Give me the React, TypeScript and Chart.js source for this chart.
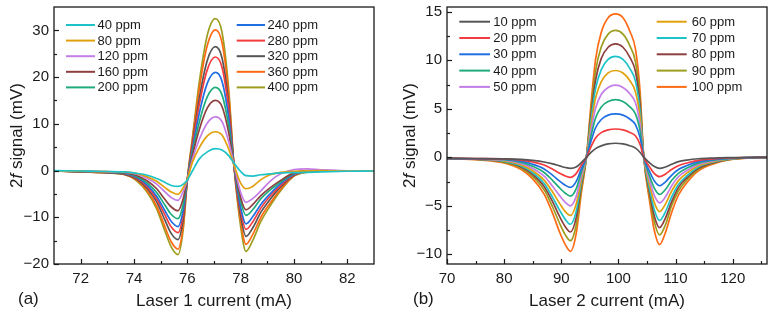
import React, { useEffect, useRef } from "react";
import { Chart, registerables } from "chart.js";

Chart.register(...registerables);

const FONT = "Arial, 'Liberation Sans', Helvetica, sans-serif";
const INK = "#1a1a1a";

// Line colours
const CYAN = "#1dc3c8";
const GOLD = "#e2a10c";
const VIOLET = "#c47de6";
const BROWN = "#8e3f3f";
const GREEN = "#1fac7a";
const BLUE = "#1f6fe2";
const RED = "#f43c3f";
const GRAY = "#555555";
const ORANGE = "#ff6a14";
const OLIVE = "#9d9d1f";

// ---------- Panel (a): laser 1 current sweep ----------
const laser1Current = [71, 72, 73, 73.6, 74.1, 74.5, 74.85, 75.15, 75.4, 75.65, 75.85, 76.0, 76.2, 76.45, 76.75, 77.05, 77.3, 77.55, 77.75, 78.0, 78.2, 78.45, 78.75, 79.1, 79.5, 80.0, 80.5, 81, 82, 83];

const a40 = [0.0, -0.1, -0.2, -0.3, -0.6, -1.0, -1.7, -2.5, -3.2, -3.4, -2.9, -2.0, 0.0, 2.5, 4.0, 4.7, 4.4, 3.2, 1.6, -0.2, -1.1, -1.2, -0.9, -0.7, -0.5, -0.45, -0.4, -0.3, -0.15, -0.1];
const a80 = [-0.05, -0.15, -0.25, -0.3, -0.65, -1.35, -2.3, -3.6, -4.6, -5.1, -3.6, -1.8, 1.9, 4.9, 7.4, 8.3, 7.6, 4.6, 1.2, -2.7, -3.9, -3.4, -2.0, -0.9, -0.4, -0.15, -0.05, 0.0, -0.1, -0.1];
const a120 = [-0.1, -0.15, -0.25, -0.35, -0.8, -1.7, -2.9, -4.5, -5.8, -6.4, -4.4, -1.9, 2.6, 6.7, 10.2, 11.5, 10.5, 6.2, 1.2, -4.7, -6.8, -6.0, -4.4, -2.3, -0.7, 0.2, 0.35, 0.15, -0.05, -0.1];
const a160 = [-0.1, -0.2, -0.3, -0.45, -1.05, -2.25, -3.9, -6.1, -7.8, -8.6, -5.9, -1.9, 3.4, 8.8, 13.4, 15.0, 13.7, 8.1, 1.1, -5.8, -8.4, -7.3, -5.4, -3.7, -2.1, -0.5, 0.0, 0.05, -0.1, -0.1];
const a200 = [-0.1, -0.2, -0.35, -0.5, -1.25, -2.7, -4.7, -7.3, -9.4, -10.3, -7.1, -2.0, 4.1, 10.4, 15.8, 17.8, 16.2, 9.6, 1.1, -6.6, -9.6, -8.4, -6.1, -4.2, -2.4, -0.6, -0.1, 0.0, -0.1, -0.1];
const a240 = [-0.1, -0.2, -0.4, -0.55, -1.45, -3.1, -5.5, -8.5, -10.9, -12.0, -8.3, -2.0, 4.8, 12.3, 18.7, 21.0, 19.1, 11.3, 1.1, -7.9, -11.4, -9.9, -7.3, -5.0, -2.8, -0.8, -0.15, -0.05, -0.1, -0.1];
const a280 = [-0.1, -0.25, -0.4, -0.6, -1.6, -3.5, -6.1, -9.4, -12.1, -13.3, -9.2, -2.0, 5.6, 14.2, 21.6, 24.3, 22.1, 13.1, 1.0, -8.7, -12.6, -11.0, -8.1, -5.5, -3.2, -0.9, -0.2, -0.1, -0.1, -0.1];
const a320 = [-0.1, -0.25, -0.45, -0.7, -1.8, -3.9, -6.7, -10.5, -13.5, -14.8, -10.2, -2.0, 6.1, 15.5, 23.6, 26.5, 24.1, 14.3, 1.0, -9.7, -14.1, -12.3, -9.0, -6.2, -3.5, -1.0, -0.25, -0.1, -0.1, -0.1];
const a360 = [-0.1, -0.3, -0.5, -0.75, -2.0, -4.4, -7.6, -11.9, -15.3, -16.8, -11.6, -2.0, 6.9, 17.6, 26.8, 30.1, 27.4, 16.3, 1.0, -10.9, -15.8, -13.7, -10.1, -7.0, -4.0, -1.1, -0.3, -0.15, -0.1, -0.1];
const a400 = [-0.1, -0.3, -0.5, -0.8, -2.2, -4.7, -8.2, -12.8, -16.4, -18.0, -12.4, -2.0, 7.5, 19.0, 29.0, 32.5, 29.6, 17.5, 1.0, -12.0, -17.3, -15.0, -11.0, -7.6, -4.3, -1.2, -0.35, -0.15, -0.1, -0.1];

const laser1Labels = ["40 ppm", "80 ppm", "120 ppm", "160 ppm", "200 ppm", "240 ppm", "280 ppm", "320 ppm", "360 ppm", "400 ppm"];
const laser1Colors = [CYAN, GOLD, VIOLET, BROWN, GREEN, BLUE, RED, GRAY, ORANGE, OLIVE];
const laser1Values = [a40, a80, a120, a160, a200, a240, a280, a320, a360, a400];

const laser1XTicks = [72, 74, 76, 78, 80, 82];
const laser1XMinor = [73, 75, 77, 79, 81];
const laser1YTicks = [-20, -10, 0, 10, 20, 30];
const laser1YMinor = [-15, -5, 5, 15, 25];

// ---------- Panel (b): laser 2 current sweep ----------
const laser2Current = [70, 75, 80, 83, 85, 87, 88.5, 89.7, 90.7, 91.6, 92.6, 93.5, 94.4, 95.2, 96.0, 97.0, 98.2, 99.5, 100.8, 102.0, 103.0, 103.8, 104.4, 105.5, 106.3, 107.2, 108.2, 109.3, 110.5, 112, 114, 116.5, 119, 122, 126];

const b10 = [-0.1, -0.12, -0.15, -0.22, -0.32, -0.48, -0.68, -0.88, -1.05, -1.14, -1.0, -0.55, 0.0, 0.5, 0.9, 1.18, 1.38, 1.45, 1.38, 1.2, 0.95, 0.5, 0.05, -0.6, -0.95, -1.14, -1.0, -0.72, -0.45, -0.28, -0.15, -0.08, -0.04, -0.02, 0.0];
const b20 = [-0.11, -0.13, -0.15, -0.28, -0.48, -0.8, -1.24, -1.63, -1.92, -2.07, -1.68, -0.8, 0.0, 1.08, 2.0, 2.55, 2.83, 2.92, 2.83, 2.57, 2.2, 1.32, 0.05, -1.04, -1.68, -2.0, -1.74, -1.26, -0.86, -0.58, -0.31, -0.16, -0.07, -0.02, 0.0];
const b30 = [-0.12, -0.15, -0.19, -0.4, -0.71, -1.2, -1.86, -2.45, -2.88, -3.1, -2.5, -1.18, 0.0, 1.65, 3.05, 3.9, 4.35, 4.47, 4.35, 3.95, 3.35, 2.0, 0.08, -1.52, -2.45, -2.93, -2.55, -1.85, -1.26, -0.85, -0.45, -0.23, -0.1, -0.03, 0.0];
const b40 = [-0.12, -0.16, -0.24, -0.52, -0.92, -1.56, -2.4, -3.15, -3.7, -4.0, -3.25, -1.5, 0.0, 2.2, 4.05, 5.2, 5.75, 5.95, 5.75, 5.2, 4.45, 2.7, 0.1, -2.0, -3.2, -3.83, -3.35, -2.4, -1.65, -1.1, -0.6, -0.3, -0.13, -0.04, 0.0];
const b50 = [-0.13, -0.17, -0.3, -0.65, -1.15, -1.95, -3.0, -3.95, -4.65, -5.0, -4.05, -1.9, 0.0, 2.75, 5.05, 6.5, 7.2, 7.44, 7.2, 6.55, 5.6, 3.35, 0.12, -2.45, -3.95, -4.7, -4.1, -2.95, -2.0, -1.35, -0.73, -0.37, -0.15, -0.05, 0.0];
const b60 = [-0.13, -0.18, -0.36, -0.78, -1.38, -2.35, -3.6, -4.75, -5.6, -6.0, -4.85, -2.3, 0.0, 3.3, 6.1, 7.8, 8.7, 8.95, 8.7, 7.9, 6.7, 4.05, 0.15, -2.9, -4.7, -5.6, -4.85, -3.5, -2.4, -1.6, -0.87, -0.44, -0.18, -0.06, 0.0];
const b70 = [-0.14, -0.19, -0.41, -0.9, -1.59, -2.7, -4.15, -5.45, -6.4, -6.9, -5.6, -2.6, 0.0, 3.85, 7.1, 9.05, 10.1, 10.4, 10.1, 9.15, 7.8, 4.7, 0.2, -3.4, -5.45, -6.5, -5.65, -4.1, -2.8, -1.9, -1.0, -0.5, -0.21, -0.06, 0.0];
const b80 = [-0.14, -0.2, -0.46, -1.0, -1.77, -3.0, -4.6, -6.1, -7.15, -7.7, -6.25, -2.9, 0.0, 4.3, 7.95, 10.2, 11.35, 11.7, 11.35, 10.3, 8.8, 5.3, 0.2, -3.8, -6.1, -7.25, -6.3, -4.6, -3.1, -2.1, -1.12, -0.57, -0.24, -0.07, 0.0];
const b90 = [-0.15, -0.22, -0.52, -1.12, -1.98, -3.35, -5.15, -6.8, -8.0, -8.6, -7.0, -3.3, 0.0, 4.85, 8.9, 11.4, 12.7, 13.08, 12.7, 11.5, 9.8, 5.9, 0.25, -4.2, -6.7, -8.0, -7.0, -5.0, -3.45, -2.3, -1.25, -0.62, -0.27, -0.08, 0.0];
const b100 = [-0.15, -0.25, -0.58, -1.26, -2.23, -3.8, -5.8, -7.7, -9.0, -9.7, -7.9, -3.7, 0.0, 5.5, 10.1, 12.9, 14.4, 14.8, 14.4, 13.0, 11.1, 6.7, 0.3, -4.7, -7.6, -9.0, -7.8, -5.7, -3.9, -2.6, -1.4, -0.7, -0.3, -0.1, 0.0];

const laser2Labels = ["10 ppm", "20 ppm", "30 ppm", "40 ppm", "50 ppm", "60 ppm", "70 ppm", "80 ppm", "90 ppm", "100 ppm"];
const laser2Colors = [GRAY, RED, BLUE, GREEN, VIOLET, GOLD, CYAN, BROWN, OLIVE, ORANGE];
const laser2Values = [b10, b20, b30, b40, b50, b60, b70, b80, b90, b100];

const laser2XTicks = [70, 80, 90, 100, 110, 120];
const laser2XMinor = [75, 85, 95, 105, 115, 125];
const laser2YTicks = [-10, -5, 0, 5, 10, 15];
const laser2YMinor = [-7.5, -2.5, 2.5, 7.5, 12.5];

const minusSign = (v: number | string) => String(v).replace("-", "\u2212");

// Frame, inward ticks, two-column legend, axis titles and panel tag
const panelDecor = {
  id: "panelDecor",
  afterDatasetsDraw(chart: any, _args: any, o: any) {
    const { ctx, chartArea: a, scales } = chart;
    const sx = scales.x;
    const sy = scales.y;
    ctx.save();

    // inward tick marks
    ctx.strokeStyle = INK;
    ctx.lineWidth = 1.2;
    const tickX = (v: number, len: number) => {
      const p = Math.round(sx.getPixelForValue(v)) + 0.5;
      ctx.beginPath();
      ctx.moveTo(p, a.bottom);
      ctx.lineTo(p, a.bottom - len);
      ctx.stroke();
    };
    const tickY = (v: number, len: number) => {
      const p = Math.round(sy.getPixelForValue(v)) + 0.5;
      ctx.beginPath();
      ctx.moveTo(a.left, p);
      ctx.lineTo(a.left + len, p);
      ctx.stroke();
    };
    o.xMajor.forEach((v: number) => tickX(v, 5));
    o.xMinor.forEach((v: number) => tickX(v, 3));
    o.yMajor.forEach((v: number) => tickY(v, 5));
    o.yMinor.forEach((v: number) => tickY(v, 3));

    // frame
    ctx.lineWidth = 1.3;
    ctx.strokeRect(a.left, a.top, a.right - a.left, a.bottom - a.top);

    // legend
    ctx.font = `13px ${FONT}`;
    ctx.textBaseline = "middle";
    ctx.textAlign = "left";
    chart.data.datasets.forEach((ds: any, i: number) => {
      const col = i < 5 ? 0 : 1;
      const row = i % 5;
      const y = a.top + o.legTop + row * o.legGap;
      const c = o.legCols[col];
      ctx.strokeStyle = ds.borderColor;
      ctx.lineWidth = 2;
      ctx.beginPath();
      ctx.moveTo(a.left + c.x0, y);
      ctx.lineTo(a.left + c.x1, y);
      ctx.stroke();
      ctx.fillStyle = INK;
      ctx.fillText(ds.label, a.left + c.tx, y + 0.5);
    });

    // x axis title
    ctx.fillStyle = INK;
    ctx.font = `17px ${FONT}`;
    ctx.textAlign = "center";
    ctx.textBaseline = "middle";
    ctx.fillText(o.xTitle, (a.left + a.right) / 2, o.xTitleY);

    // panel tag
    ctx.textAlign = "left";
    ctx.fillText(o.tag, o.tagX, o.xTitleY - 2);

    // y axis title: "2f signal (mV)" with italic f
    const parts = [
      { t: "2", f: `17px ${FONT}` },
      { t: "f", f: `italic 17px ${FONT}` },
      { t: " signal (mV)", f: `17px ${FONT}` },
    ];
    let total = 0;
    parts.forEach((p) => {
      ctx.font = p.f;
      total += ctx.measureText(p.t).width;
    });
    ctx.translate(o.yTitleX, (a.top + a.bottom) / 2);
    ctx.rotate(-Math.PI / 2);
    let x = -total / 2;
    ctx.textAlign = "left";
    ctx.textBaseline = "middle";
    parts.forEach((p) => {
      ctx.font = p.f;
      ctx.fillText(p.t, x, 0);
      x += ctx.measureText(p.t).width;
    });
    ctx.restore();
  },
};

type PanelProps = {
  width: number;
  current: number[];
  values: number[][];
  labels: string[];
  colors: string[];
  xMin: number;
  xMax: number;
  yMin: number;
  yMax: number;
  xTicks: number[];
  xMinor: number[];
  yTicks: number[];
  yMinor: number[];
  yAxisWidth: number;
  rightPad: number;
  decor: any;
};

function Panel(p: PanelProps) {
  const ref = useRef<HTMLCanvasElement | null>(null);

  useEffect(() => {
    if (!ref.current) return;
    const tickFont = { family: FONT, size: 15 };
    const chart = new Chart(ref.current, {
      type: "line",
      data: {
        datasets: p.values.map((vals, i) => ({
          label: p.labels[i],
          data: p.current.map((x, j) => ({ x, y: vals[j] })),
          borderColor: p.colors[i],
          backgroundColor: p.colors[i],
          borderWidth: 1.7,
          pointRadius: 0,
          fill: false,
          cubicInterpolationMode: "monotone" as const,
        })),
      },
      options: {
        animation: false,
        responsive: false,
        devicePixelRatio: 1,
        events: [],
        layout: { padding: { left: 0, right: p.rightPad, top: 7, bottom: 0 } },
        plugins: {
          legend: { display: false },
          tooltip: { enabled: false },
          panelDecor: {
            ...p.decor,
            xMajor: p.xTicks,
            xMinor: p.xMinor,
            yMajor: p.yTicks,
            yMinor: p.yMinor,
          },
        } as any,
        scales: {
          x: {
            type: "linear",
            min: p.xMin,
            max: p.xMax,
            grid: { display: false, drawTicks: false },
            border: { display: false },
            ticks: { font: tickFont, color: INK, padding: 6, maxRotation: 0, autoSkip: false, callback: (v: any) => minusSign(v) },
            afterBuildTicks: (s: any) => {
              s.ticks = p.xTicks.map((v) => ({ value: v }));
            },
            afterFit: (s: any) => {
              s.height = 55;
              s.paddingLeft = 0;
              s.paddingRight = 0;
            },
          },
          y: {
            type: "linear",
            min: p.yMin,
            max: p.yMax,
            grid: { display: false, drawTicks: false },
            border: { display: false },
            ticks: { font: tickFont, color: INK, padding: 5, autoSkip: false, callback: (v: any) => minusSign(v) },
            afterBuildTicks: (s: any) => {
              s.ticks = p.yTicks.map((v) => ({ value: v }));
            },
            afterFit: (s: any) => {
              s.width = p.yAxisWidth;
              s.paddingTop = 0;
              s.paddingBottom = 0;
            },
          },
        },
      },
      plugins: [panelDecor],
    });
    return () => chart.destroy();
  }, []);

  return <canvas ref={ref} width={p.width} height={319} style={{ display: "block", width: p.width, height: 319 }} />;
}

export default function App() {
  return (
    <div style={{ position: "absolute", left: 0, top: 0, width: 777, height: 319, background: "#fff", display: "flex" }}>
      <Panel
        width={390}
        current={laser1Current}
        values={laser1Values}
        labels={laser1Labels}
        colors={laser1Colors}
        xMin={71}
        xMax={83}
        yMin={-20}
        yMax={35}
        xTicks={laser1XTicks}
        xMinor={laser1XMinor}
        yTicks={laser1YTicks}
        yMinor={laser1YMinor}
        yAxisWidth={54}
        rightPad={16}
        decor={{
          xTitle: "Laser 1 current (mA)",
          xTitleY: 301,
          tag: "(a)",
          tagX: 18,
          yTitleX: 17,
          legTop: 18,
          legGap: 15.6,
          legCols: [
            { x0: 12, x1: 41, tx: 43.5 },
            { x0: 182.7, x1: 211, tx: 213.5 },
          ],
        }}
      />
      <Panel
        width={387}
        current={laser2Current}
        values={laser2Values}
        labels={laser2Labels}
        colors={laser2Colors}
        xMin={70}
        xMax={126}
        yMin={-11}
        yMax={15.5}
        xTicks={laser2XTicks}
        xMinor={laser2XMinor}
        yTicks={laser2YTicks}
        yMinor={laser2YMinor}
        yAxisWidth={57}
        rightPad={10}
        decor={{
          xTitle: "Laser 2 current (mA)",
          xTitleY: 301,
          tag: "(b)",
          tagX: 23,
          yTitleX: 20,
          legTop: 14.7,
          legGap: 16.3,
          legCols: [
            { x0: 12.3, x1: 43, tx: 46.3 },
            { x0: 209.7, x1: 239.7, tx: 244.7 },
          ],
        }}
      />
    </div>
  );
}
